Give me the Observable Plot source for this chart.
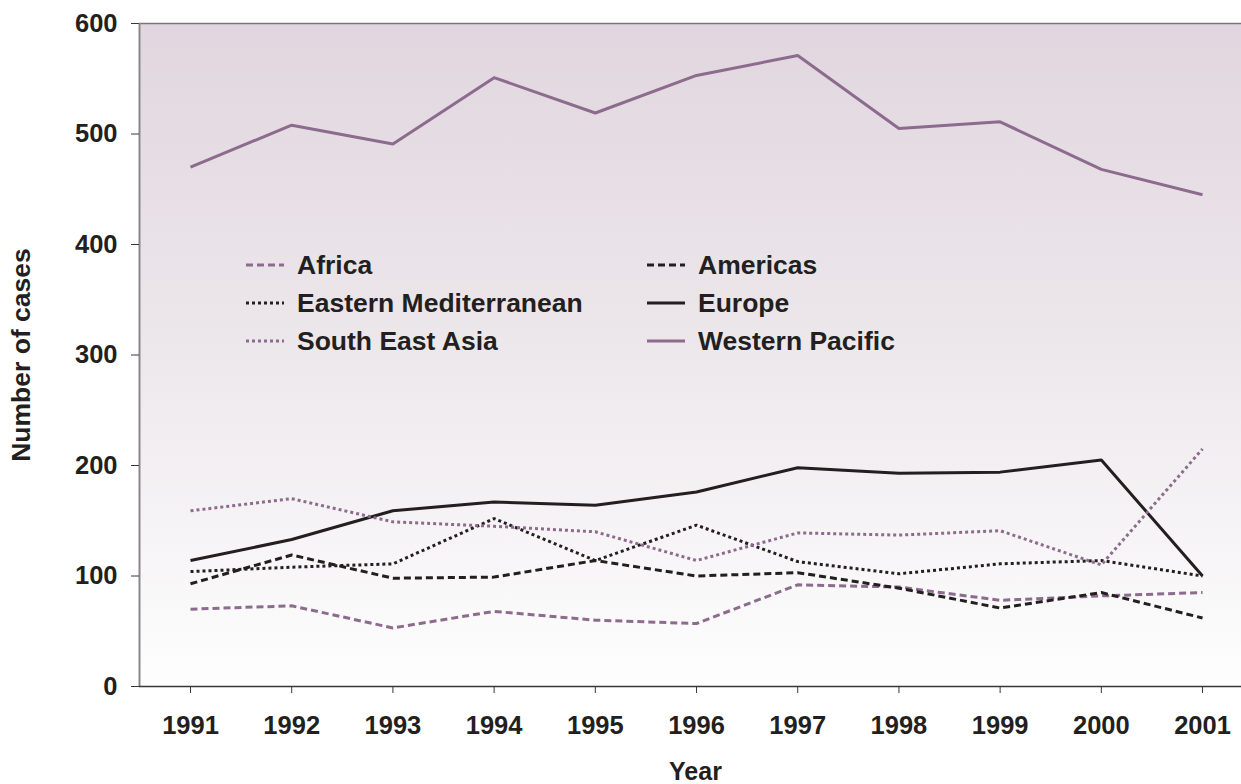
<!DOCTYPE html>
<html><head><meta charset="utf-8">
<script src="https://cdn.jsdelivr.net/npm/d3@7"></script>
<script src="https://cdn.jsdelivr.net/npm/@observablehq/plot@0.6"></script>
<style>
html,body{margin:0;padding:0;background:#fff;}
#wrap{position:relative;width:1241px;height:784px;font-family:"Liberation Sans",Arial,sans-serif;font-weight:bold;color:#231f20;overflow:hidden;}
.item{position:absolute;height:30px;display:flex;align-items:center;font-size:26.5px;white-space:nowrap;}
.item svg{margin-right:13px;flex:none;}
</style></head><body><div id="wrap"></div>
<script>
// ---- data ----
const years = [1991, 1992, 1993, 1994, 1995, 1996, 1997, 1998, 1999, 2000, 2001];
const regions = ["Africa", "Americas", "Eastern Mediterranean", "Europe", "South East Asia", "Western Pacific"];
const africa = [70, 73, 53, 68, 60, 57, 92, 90, 78, 82, 85];
const americas = [93, 119, 98, 99, 114, 100, 103, 89, 71, 85, 62];
const easternMediterranean = [104, 108, 111, 152, 114, 146, 113, 102, 111, 114, 100];
const europe = [114, 133, 159, 167, 164, 176, 198, 193, 194, 205, 100];
const southEastAsia = [159, 170, 149, 145, 140, 114, 139, 137, 141, 110, 215];
const westernPacific = [470, 508, 491, 551, 519, 553, 571, 505, 511, 468, 445];
const yTicks = [0, 100, 200, 300, 400, 500, 600];
const xLabel = "Year";
const yLabel = "Number of cases";

const seriesValues = [africa, americas, easternMediterranean, europe, southEastAsia, westernPacific];

// ---- styles ----
const purple = "#8d6b8e", dark = "#231f20";
const styles = {
  "Africa": {stroke: purple, dash: "7,4"},
  "Americas": {stroke: dark, dash: "7,4"},
  "Eastern Mediterranean": {stroke: dark, dash: "3,3"},
  "Europe": {stroke: dark, dash: null},
  "South East Asia": {stroke: purple, dash: "3,3"},
  "Western Pacific": {stroke: purple, dash: null}
};

const rows = regions.flatMap((r, i) => years.map((y, j) => ({region: r, year: y, value: seriesValues[i][j]})));

const xDomain = [1990.496, 2001.385];

const lineMarks = regions.map(r => Plot.line(rows.filter(d => d.region === r), {
  x: "year", y: "value", stroke: styles[r].stroke, strokeWidth: 3,
  strokeDasharray: styles[r].dash || undefined, strokeLinejoin: "miter", strokeLinecap: "butt"
}));

const chart = Plot.plot({
  width: 1241, height: 784,
  marginLeft: 139, marginRight: 0, marginTop: 23, marginBottom: 98,
  style: {fontFamily: "'Liberation Sans', Arial, sans-serif", fontWeight: "bold", fontSize: "25.5px", color: dark, background: "transparent", overflow: "visible"},
  x: {domain: xDomain},
  y: {domain: [0, 600]},
  marks: [
    Plot.frame({fill: "url(#bgGrad)", stroke: null}),
    Plot.ruleY([600], {stroke: "#7a777b", strokeWidth: 1.5}),
    Plot.ruleX([xDomain[0]], {stroke: "#8a878b", strokeWidth: 2}),
    Plot.ruleY([0], {stroke: "#3a3739", strokeWidth: 1.5}),
    Plot.axisY(yTicks, {tickSize: 8, tickPadding: 14, label: null, stroke: "#3a3739", fill: dark, fontSize: 25.5}),
    Plot.axisX(years, {tickSize: 7, tickPadding: 22, tickFormat: d => String(d), label: null, stroke: "#3a3739", fill: dark, fontSize: 25.5}),
    ...lineMarks,
    Plot.text([yLabel], {frameAnchor: "left", textAnchor: "middle", rotate: -90, dx: -118, fontSize: 26.5, fill: dark}),
    Plot.text([xLabel], {frameAnchor: "bottom", textAnchor: "middle", lineAnchor: "middle", dx: 5, dy: 85, fontSize: 25, fill: dark})
  ]
});

// gradient background
const ns = "http://www.w3.org/2000/svg";
const defs = document.createElementNS(ns, "defs");
defs.innerHTML = '<linearGradient id="bgGrad" x1="0" y1="0" x2="0" y2="1">' +
  '<stop offset="0" stop-color="#e1d6df"/><stop offset="0.5" stop-color="#ede8ec"/><stop offset="1" stop-color="#fefefe"/></linearGradient>';
chart.insertBefore(defs, chart.firstChild);

const wrap = document.getElementById("wrap");
wrap.appendChild(chart);

// legend overlay
const colX = [246, 647];
const rowY = [265, 303, 341];
const legendOrder = ["Africa", "Americas", "Eastern Mediterranean", "Europe", "South East Asia", "Western Pacific"];
legendOrder.forEach((r, i) => {
  const c = i % 2, rr = Math.floor(i / 2);
  const div = document.createElement("div");
  div.className = "item";
  div.style.left = colX[c] + "px";
  div.style.top = (rowY[rr] - 15) + "px";
  const s = styles[r];
  div.innerHTML = `<svg width="38" height="6"><line x1="0" y1="3" x2="38" y2="3" stroke="${s.stroke}" stroke-width="3" ${s.dash ? `stroke-dasharray="${s.dash}"` : ""}/></svg><span>${r}</span>`;
  wrap.appendChild(div);
});
</script></body></html>
